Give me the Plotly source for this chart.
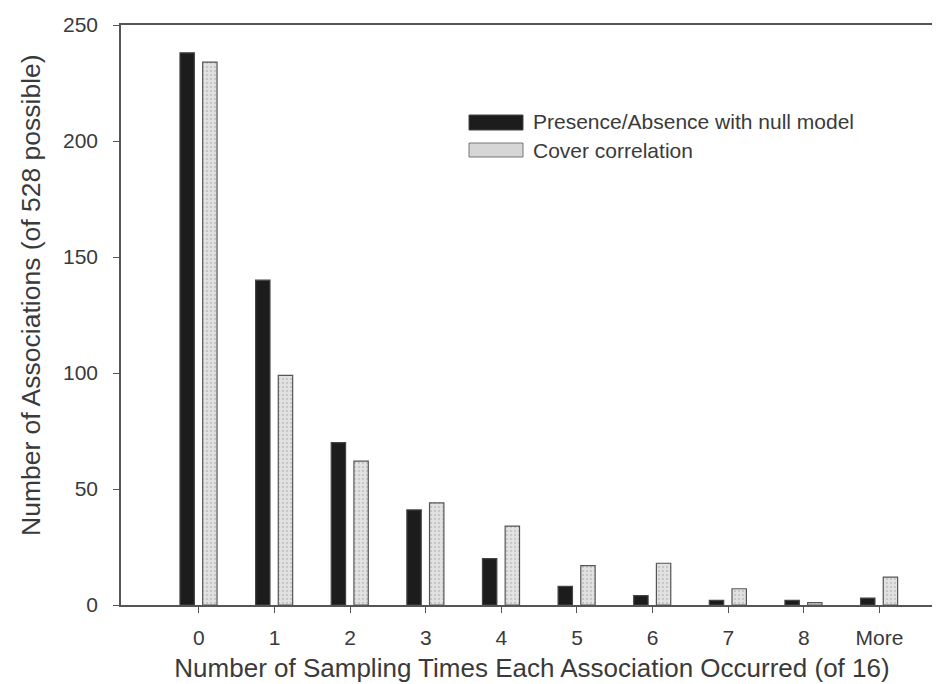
import plotly.graph_objects as go

categories = ["0", "1", "2", "3", "4", "5", "6", "7", "8", "More"]
presence_absence = [238, 140, 70, 41, 20, 8, 4, 2, 2, 3]
cover_correlation = [234, 99, 62, 44, 34, 17, 18, 7, 1, 12]
y_ticks = [0, 50, 100, 150, 200, 250]

xpos = list(range(len(categories)))
FONT = "Liberation Sans, Arial, sans-serif"
TXT = "#3a3a3a"

fig = go.Figure()
fig.add_trace(go.Bar(
    x=xpos, y=presence_absence, name="Presence/Absence with null model",
    width=0.19, offset=-0.25,
    marker=dict(color="#1c1c1c", line=dict(color="#444", width=1.2)),
    showlegend=False,
))
fig.add_trace(go.Bar(
    x=xpos, y=cover_correlation, name="Cover correlation",
    width=0.19, offset=0.05,
    marker=dict(color="#dcdcdc", line=dict(color="#555", width=1.2),
                pattern=dict(shape=".", fgcolor="#a8a8a8", bgcolor="#e2e2e2",
                             size=4, solidity=0.25)),
    showlegend=False,
))

# custom legend (swatches + labels)
fig.add_shape(type="rect", xref="paper", yref="paper",
              x0=(466-118)/822, x1=(520-118)/822, y0=(605-130)/580, y1=(605-115)/580,
              fillcolor="#1c1c1c", line=dict(color="#444", width=1))
fig.add_shape(type="rect", xref="paper", yref="paper",
              x0=(466-118)/822, x1=(520-118)/822, y0=(605-157)/580, y1=(605-143)/580,
              fillcolor="#d6d6d6", line=dict(color="#777", width=1))
fig.add_annotation(xref="paper", yref="paper", x=(528-118)/822, y=(605-122)/580,
                   text="Presence/Absence with null model", showarrow=False,
                   xanchor="left", yanchor="middle", font=dict(family=FONT, size=21, color=TXT))
fig.add_annotation(xref="paper", yref="paper", x=(528-118)/822, y=(605-150)/580,
                   text="Cover correlation", showarrow=False,
                   xanchor="left", yanchor="middle", font=dict(family=FONT, size=21, color=TXT))
# y axis title
fig.add_annotation(xref="paper", yref="paper", x=0, xshift=-90, y=(605-295)/580,
                   text="Number of Associations (of 528 possible)", showarrow=False,
                   textangle=-90, xanchor="center", yanchor="middle",
                   font=dict(family=FONT, size=26.5, color=TXT))

fig.update_layout(
    width=935, height=676,
    margin=dict(l=113, r=0, t=17, b=79),
    plot_bgcolor="white", paper_bgcolor="white",
    font=dict(family=FONT, size=21, color=TXT),
    barmode="overlay",
)
fig.update_xaxes(
    range=[-1.03, 9.84], tickmode="array", tickvals=xpos, ticktext=categories,
    showgrid=False, zeroline=False, showline=True, linecolor="#555", linewidth=1.5,
    mirror=True, ticks="outside", ticklen=6, tickcolor="#555",
    ticklabelstandoff=7, automargin=False,
    title=dict(text="Number of Sampling Times Each Association Occurred (of 16)",
               font=dict(size=26, color=TXT), standoff=11),
)
fig.update_yaxes(
    range=[0, 250], tickmode="array", tickvals=y_ticks,
    showgrid=False, zeroline=False, showline=True, linecolor="#555", linewidth=1.5,
    ticks="outside", ticklen=6, tickcolor="#555", ticklabelstandoff=11,
    automargin=False,
)

fig.write_html("out.html")
